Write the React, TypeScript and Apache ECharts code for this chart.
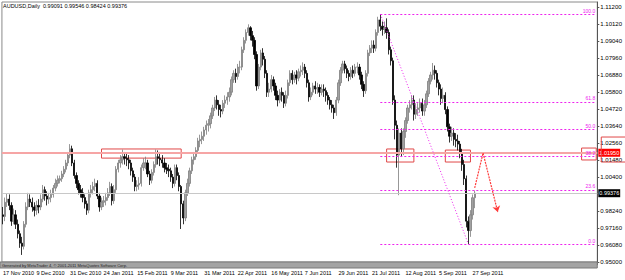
import React, { useEffect, useRef } from 'react';
import * as echarts from 'echarts';

const opens = [
  0.9800, 0.9790, 0.9880, 0.9900, 0.9860, 0.9760, 0.9800, 0.9740, 0.9680, 0.9620,
  0.9600, 0.9740, 0.9850, 0.9900, 0.9880, 0.9850, 0.9830, 0.9860, 0.9850, 0.9900,
  0.9960, 0.9920, 0.9900, 0.9910, 0.9930, 0.9970, 1.0000, 1.0020, 1.0030, 1.0060,
  1.0090, 1.0130, 1.0180, 1.0220, 1.0130, 1.0050, 1.0000, 0.9960, 0.9940, 0.9910,
  0.9870, 0.9830, 0.9940, 0.9960, 0.9980, 1.0000, 0.9920, 0.9850, 0.9880, 0.9890,
  0.9910, 0.9940, 0.9980, 0.9890, 0.9960, 1.0090, 1.0130, 1.0150, 1.0170, 1.0160,
  1.0150, 1.0130, 1.0080, 1.0040, 0.9980, 0.9990, 1.0000, 1.0100, 1.0130, 1.0130,
  1.0060, 1.0020, 1.0070, 1.0120, 1.0170, 1.0160, 1.0150, 1.0130, 1.0100, 1.0090,
  1.0080, 1.0040, 1.0000, 1.0100, 1.0050, 0.9980, 0.9870, 0.9780, 0.9940, 1.0000,
  1.0080, 1.0150, 1.0170, 1.0210, 1.0270, 1.0280, 1.0300, 1.0340, 1.0370, 1.0380,
  1.0430, 1.0480, 1.0530, 1.0500, 1.0470, 1.0460, 1.0510, 1.0530, 1.0550, 1.0580,
  1.0660, 1.0700, 1.0680, 1.0740, 1.0740, 1.0850, 1.0910, 1.0960, 1.0990, 1.0940,
  1.0910, 1.0820, 1.0620, 1.0740, 1.0830, 1.0790, 1.0700, 1.0580, 1.0600, 1.0660,
  1.0620, 1.0560, 1.0530, 1.0580, 1.0560, 1.0510, 1.0560, 1.0640, 1.0700, 1.0660,
  1.0690, 1.0670, 1.0710, 1.0720, 1.0740, 1.0700, 1.0640, 1.0550, 1.0580, 1.0620,
  1.0600, 1.0610, 1.0580, 1.0600, 1.0590, 1.0560, 1.0530, 1.0500, 1.0480, 1.0450,
  1.0530, 1.0640, 1.0720, 1.0760, 1.0730, 1.0700, 1.0680, 1.0720, 1.0700, 1.0740,
  1.0740, 1.0690, 1.0630, 1.0590, 1.0700, 1.0830, 1.0860, 1.0880, 1.0860, 1.0960,
  1.1040, 1.1000, 1.0980, 1.0990, 1.0960, 1.0850, 1.0780, 1.0530, 1.0370, 1.0180,
  1.0320, 1.0220, 1.0330, 1.0400, 1.0480, 1.0500, 1.0530, 1.0440, 1.0470, 1.0480,
  1.0510, 1.0460, 1.0500, 1.0570, 1.0650, 1.0690, 1.0720, 1.0700, 1.0640, 1.0600,
  1.0540, 1.0560, 1.0470, 1.0360, 1.0300, 1.0320, 1.0280, 1.0270, 1.0250, 1.0190,
  1.0120, 1.0030, 0.9760, 0.9700, 0.9800, 0.99091,
];

const closes = [
  0.9790, 0.9880, 0.9900, 0.9860, 0.9760, 0.9800, 0.9740, 0.9680, 0.9620, 0.9600,
  0.9740, 0.9850, 0.9900, 0.9880, 0.9850, 0.9830, 0.9860, 0.9850, 0.9900, 0.9960,
  0.9920, 0.9900, 0.9910, 0.9930, 0.9970, 1.0000, 1.0020, 1.0030, 1.0060, 1.0090,
  1.0130, 1.0180, 1.0220, 1.0130, 1.0050, 1.0000, 0.9960, 0.9940, 0.9910, 0.9870,
  0.9830, 0.9940, 0.9960, 0.9980, 1.0000, 0.9920, 0.9850, 0.9880, 0.9890, 0.9910,
  0.9940, 0.9980, 0.9890, 0.9960, 1.0090, 1.0130, 1.0150, 1.0170, 1.0160, 1.0150,
  1.0130, 1.0080, 1.0040, 0.9980, 0.9990, 1.0000, 1.0100, 1.0130, 1.0130, 1.0060,
  1.0020, 1.0070, 1.0120, 1.0170, 1.0160, 1.0150, 1.0130, 1.0100, 1.0090, 1.0080,
  1.0040, 1.0000, 1.0100, 1.0050, 0.9980, 0.9870, 0.9780, 0.9940, 1.0000, 1.0080,
  1.0150, 1.0170, 1.0210, 1.0270, 1.0280, 1.0300, 1.0340, 1.0370, 1.0380, 1.0430,
  1.0480, 1.0530, 1.0500, 1.0470, 1.0460, 1.0510, 1.0530, 1.0550, 1.0580, 1.0660,
  1.0700, 1.0680, 1.0740, 1.0740, 1.0850, 1.0910, 1.0960, 1.0990, 1.0940, 1.0910,
  1.0820, 1.0620, 1.0740, 1.0830, 1.0790, 1.0700, 1.0580, 1.0600, 1.0660, 1.0620,
  1.0560, 1.0530, 1.0580, 1.0560, 1.0510, 1.0560, 1.0640, 1.0700, 1.0660, 1.0690,
  1.0670, 1.0710, 1.0720, 1.0740, 1.0700, 1.0640, 1.0550, 1.0580, 1.0620, 1.0600,
  1.0610, 1.0580, 1.0600, 1.0590, 1.0560, 1.0530, 1.0500, 1.0480, 1.0450, 1.0530,
  1.0640, 1.0720, 1.0760, 1.0730, 1.0700, 1.0680, 1.0720, 1.0700, 1.0740, 1.0740,
  1.0690, 1.0630, 1.0590, 1.0700, 1.0830, 1.0860, 1.0880, 1.0860, 1.0960, 1.1040,
  1.1000, 1.0980, 1.0990, 1.0960, 1.0850, 1.0780, 1.0530, 1.0370, 1.0180, 1.0320,
  1.0220, 1.0330, 1.0400, 1.0480, 1.0500, 1.0530, 1.0440, 1.0470, 1.0480, 1.0510,
  1.0460, 1.0500, 1.0570, 1.0650, 1.0690, 1.0720, 1.0700, 1.0640, 1.0600, 1.0540,
  1.0560, 1.0470, 1.0360, 1.0300, 1.0320, 1.0280, 1.0270, 1.0250, 1.0190, 1.0120,
  1.0030, 0.9760, 0.9700, 0.9800, 0.99091, 0.99376,
];

const lows = [
  0.9740, 0.9760, 0.9850, 0.9830, 0.9730, 0.9740, 0.9710, 0.9650, 0.9590, 0.9545,
  0.9580, 0.9720, 0.9830, 0.9850, 0.9820, 0.9790, 0.9800, 0.9810, 0.9830, 0.9880,
  0.9890, 0.9860, 0.9870, 0.9880, 0.9910, 0.9950, 0.9980, 1.0000, 1.0010, 1.0040,
  1.0070, 1.0110, 1.0160, 1.0110, 1.0030, 0.9970, 0.9930, 0.9910, 0.9880, 0.9840,
  0.9800, 0.9810, 0.9910, 0.9930, 0.9950, 0.9900, 0.9820, 0.9830, 0.9850, 0.9860,
  0.9890, 0.9920, 0.9860, 0.9870, 0.9940, 1.0070, 1.0100, 1.0120, 1.0120, 1.0110,
  1.0090, 1.0050, 1.0010, 0.9950, 0.9950, 0.9960, 0.9980, 1.0080, 1.0090, 1.0040,
  0.9990, 1.0000, 1.0050, 1.0100, 1.0120, 1.0110, 1.0100, 1.0070, 1.0060, 1.0040,
  1.0010, 0.9970, 0.9980, 1.0020, 0.9950, 0.9710, 0.9740, 0.9760, 0.9920, 0.9980,
  1.0060, 1.0120, 1.0150, 1.0190, 1.0230, 1.0250, 1.0270, 1.0310, 1.0330, 1.0350,
  1.0410, 1.0460, 1.0470, 1.0430, 1.0420, 1.0440, 1.0480, 1.0500, 1.0520, 1.0560,
  1.0640, 1.0640, 1.0660, 1.0700, 1.0720, 1.0830, 1.0890, 1.0940, 1.0910, 1.0870,
  1.0790, 1.0590, 1.0600, 1.0720, 1.0750, 1.0670, 1.0550, 1.0550, 1.0580, 1.0590,
  1.0530, 1.0490, 1.0510, 1.0520, 1.0480, 1.0490, 1.0540, 1.0620, 1.0630, 1.0640,
  1.0630, 1.0650, 1.0680, 1.0690, 1.0670, 1.0610, 1.0520, 1.0530, 1.0560, 1.0570,
  1.0570, 1.0550, 1.0560, 1.0550, 1.0520, 1.0500, 1.0470, 1.0450, 1.0410, 1.0430,
  1.0510, 1.0620, 1.0700, 1.0700, 1.0670, 1.0650, 1.0660, 1.0670, 1.0680, 1.0700,
  1.0660, 1.0600, 1.0550, 1.0570, 1.0680, 1.0810, 1.0830, 1.0830, 1.0840, 1.0940,
  1.0970, 1.0940, 1.0950, 1.0920, 1.0820, 1.0750, 1.0500, 1.0280, 1.0100, 0.9925,
  1.0170, 1.0180, 1.0290, 1.0380, 1.0450, 1.0470, 1.0400, 1.0410, 1.0430, 1.0450,
  1.0430, 1.0430, 1.0480, 1.0550, 1.0630, 1.0660, 1.0660, 1.0610, 1.0560, 1.0500,
  1.0510, 1.0440, 1.0330, 1.0260, 1.0270, 1.0240, 1.0230, 1.0210, 1.0160, 1.0080,
  0.9990, 0.9720, 0.9614, 0.9660, 0.9770, 0.98424,
];

const highs = [
  0.9850, 0.9910, 0.9935, 0.9930, 0.9880, 0.9840, 0.9830, 0.9770, 0.9700, 0.9660,
  0.9760, 0.9880, 0.9940, 0.9930, 0.9910, 0.9880, 0.9890, 0.9900, 0.9930, 0.9990,
  0.9980, 0.9950, 0.9940, 0.9960, 0.9990, 1.0030, 1.0050, 1.0050, 1.0080, 1.0110,
  1.0150, 1.0200, 1.0250, 1.0240, 1.0150, 1.0070, 1.0020, 0.9990, 0.9970, 0.9930,
  0.9890, 0.9960, 0.9990, 1.0010, 1.0030, 1.0020, 0.9940, 0.9910, 0.9920, 0.9940,
  0.9970, 1.0010, 1.0000, 0.9990, 1.0110, 1.0150, 1.0180, 1.0215, 1.0200, 1.0190,
  1.0180, 1.0150, 1.0100, 1.0060, 1.0020, 1.0040, 1.0120, 1.0160, 1.0170, 1.0150,
  1.0080, 1.0090, 1.0140, 1.0215, 1.0210, 1.0200, 1.0180, 1.0160, 1.0130, 1.0120,
  1.0100, 1.0060, 1.0120, 1.0120, 1.0070, 0.9990, 0.9890, 0.9960, 1.0030, 1.0100,
  1.0170, 1.0200, 1.0230, 1.0290, 1.0310, 1.0330, 1.0360, 1.0400, 1.0410, 1.0450,
  1.0500, 1.0550, 1.0560, 1.0530, 1.0500, 1.0530, 1.0560, 1.0580, 1.0610, 1.0680,
  1.0720, 1.0730, 1.0760, 1.0780, 1.0870, 1.0930, 1.0980, 1.1012, 1.1000, 1.0970,
  1.0930, 1.0840, 1.0760, 1.0850, 1.0860, 1.0810, 1.0720, 1.0640, 1.0690, 1.0680,
  1.0640, 1.0590, 1.0600, 1.0610, 1.0580, 1.0590, 1.0660, 1.0720, 1.0720, 1.0710,
  1.0720, 1.0730, 1.0750, 1.0770, 1.0760, 1.0720, 1.0660, 1.0610, 1.0640, 1.0650,
  1.0640, 1.0630, 1.0630, 1.0630, 1.0610, 1.0580, 1.0550, 1.0530, 1.0500, 1.0550,
  1.0660, 1.0740, 1.0780, 1.0780, 1.0750, 1.0720, 1.0740, 1.0750, 1.0760, 1.0770,
  1.0760, 1.0710, 1.0650, 1.0720, 1.0850, 1.0880, 1.0910, 1.0910, 1.0980, 1.1060,
  1.1077, 1.1030, 1.1030, 1.1050, 1.0980, 1.0870, 1.0800, 1.0560, 1.0400, 1.0350,
  1.0350, 1.0350, 1.0420, 1.0500, 1.0530, 1.0560, 1.0560, 1.0510, 1.0510, 1.0540,
  1.0540, 1.0530, 1.0590, 1.0670, 1.0710, 1.0766, 1.0750, 1.0720, 1.0660, 1.0630,
  1.0610, 1.0580, 1.0490, 1.0380, 1.0360, 1.0350, 1.0320, 1.0310, 1.0270, 1.0220,
  1.0150, 1.0050, 0.9790, 0.9830, 0.9930, 0.99546,
];

// one label every 16 trading days, starting at the first bar
const xTickLabels = [
  '17 Nov 2010', '9 Dec 2010', '31 Dec 2010', '24 Jan 2011', '15 Feb 2011',
  '9 Mar 2011', '31 Mar 2011', '22 Apr 2011', '16 May 2011', '7 Jun 2011',
  '29 Jun 2011', '21 Jul 2011', '12 Aug 2011', '5 Sep 2011', '27 Sep 2011',
];
const yTickValues = [
  1.112, 1.1012, 1.0904, 1.0796, 1.0688, 1.058, 1.0472, 1.0364, 1.0256, 1.0148,
  1.004, 0.9824, 0.9716, 0.9608, 0.95,
];

const fibLabels = ['100.0', '61.8', '50.0', '38.2', '23.6', '0.0'];
const fibPrices = [1.1077, 1.0518, 1.0346, 1.0173, 0.9959, 0.9614];
const fibHighBar = 180;
const fibLowBar = 222;
const supportPrice = 1.0195;

// [startBar, endBar, topPrice, bottomPrice]
const boxes = [
  [47, 85, 1.0219, 1.0161],
  [183, 196, 1.0219, 1.0136],
  [211, 223, 1.0212, 1.0136],
  [276, 283, 1.0225, 1.0149],
];
const axisBox = [1.0295, 1.0136];
// projected path [bar, price]
const arrowPath = [
  [225, 0.9971],
  [229, 1.0193],
  [236, 0.9818],
];

const SLOTS = 284;
const FONT = 'Liberation Sans';
const MAGENTA = '#ee22ee';

export default function App() {
  const ref = useRef<HTMLDivElement>(null);
  useEffect(() => {
    document.body.style.margin = '0';
    const chart = echarts.init(ref.current!, null, { renderer: 'svg' });
    const n = opens.length;
    const categories = Array.from({ length: SLOTS }, (_, i) => String(i));
    const candleData = opens.map((o, i) => [o, closes[i], lows[i], highs[i]]);

    const fibLines = fibPrices.map((p, k) => [
      {
        coord: [fibHighBar, p],
        lineStyle: { color: MAGENTA, type: [2, 2], width: 1 },
        label: {
          show: true, formatter: fibLabels[k], position: 'insideEndTop',
          color: MAGENTA, fontSize: 5, fontFamily: FONT, distance: 1,
        },
      },
      { coord: [SLOTS - 1, p] },
    ]);
    const diag = [
      { coord: [fibHighBar, fibPrices[0]], lineStyle: { color: MAGENTA, type: [1, 2], width: 1 }, label: { show: false } },
      { coord: [fibLowBar, fibPrices[fibPrices.length - 1]] },
    ];
    const arrowSegs = arrowPath.slice(0, -1).map((pt, i) => [
      { coord: pt, lineStyle: { color: '#ff3b3b', type: [2, 1], width: 1.2 }, label: { show: false } },
      { coord: arrowPath[i + 1], symbol: i === arrowPath.length - 2 ? 'arrow' : 'none', symbolSize: 6 },
    ]);

    const option: any = {
      animation: false,
      backgroundColor: '#ffffff',
      title: {
        text: `AUDUSD,Daily  ${opens[n - 1].toFixed(5)} ${highs[n - 1].toFixed(5)} ${lows[n - 1].toFixed(5)} ${closes[n - 1].toFixed(5)}`,
        left: 3, top: 3, padding: 0,
        textStyle: { fontSize: 5.5, fontWeight: 'normal', color: '#000', fontFamily: FONT },
      },
      grid: { left: 0, right: 20, top: 2, bottom: 18, show: true, borderColor: '#8a8a8a', borderWidth: 1 },
      xAxis: {
        type: 'category',
        data: categories,
        boundaryGap: true,
        axisLine: { show: false },
        axisTick: {
          show: true, length: 3, lineStyle: { color: '#555' },
          interval: (i: number) => i % 16 === 0 && i / 16 < xTickLabels.length,
        },
        axisLabel: {
          interval: 15, margin: 8, align: 'left', fontSize: 5.5, color: '#000', fontFamily: FONT,
          formatter: (_v: string, i: number) => (i % 16 === 0 ? xTickLabels[i / 16] ?? '' : ''),
        },
        splitLine: { show: false },
      },
      yAxis: {
        type: 'value',
        position: 'right',
        min: 0.95,
        max: 1.1154,
        scale: true,
        axisLine: { show: true, lineStyle: { color: '#555' } },
        axisTick: { show: true, length: 2, customValues: yTickValues, lineStyle: { color: '#555' } },
        axisLabel: {
          customValues: yTickValues, margin: 3, fontSize: 6, color: '#000', fontFamily: FONT,
          formatter: (v: number) => v.toFixed(5),
        },
        splitLine: { show: false },
      },
      series: [
        {
          type: 'candlestick',
          data: candleData,
          barWidth: 1.8,
          itemStyle: {
            color: '#a2a2a2', color0: '#000000',
            borderColor: '#7e7e7e', borderColor0: '#000000', borderWidth: 0.8,
          },
          markArea: {
            silent: true,
            itemStyle: { color: 'rgba(0,0,0,0)', borderColor: '#e04848', borderWidth: 1 },
            data: boxes.map((b) => [{ coord: [b[0], b[2]] }, { coord: [b[1], b[3]] }]),
          },
          markLine: {
            silent: true,
            symbol: ['none', 'none'],
            precision: 5,
            data: [
              {
                yAxis: supportPrice,
                lineStyle: { color: '#f6a5a5', width: 2, type: 'solid' },
                label: {
                  show: true, position: 'end', distance: 1, formatter: supportPrice.toFixed(5),
                  backgroundColor: '#ff0000', color: '#fff', fontSize: 5.5, fontFamily: FONT, padding: [1, 1],
                },
              },
              {
                yAxis: closes[n - 1],
                lineStyle: { color: '#c8c8c8', width: 1, type: 'solid' },
                label: {
                  show: true, position: 'end', distance: 1, formatter: closes[n - 1].toFixed(5),
                  backgroundColor: '#000', color: '#fff', fontSize: 5.5, fontFamily: FONT, padding: [1, 1],
                },
              },
              ...fibLines,
              diag,
              ...arrowSegs,
            ],
          },
        },
      ],
    };
    chart.setOption(option);

    const yTop = chart.convertToPixel({ yAxisIndex: 0 }, axisBox[0]) as number;
    const yBot = chart.convertToPixel({ yAxisIndex: 0 }, axisBox[1]) as number;
    const yMin = chart.convertToPixel({ yAxisIndex: 0 }, 0.95) as number;
    const xRight = (chart.convertToPixel({ xAxisIndex: 0 }, SLOTS - 1) as number) + 1;
    chart.setOption({
      graphic: [
        {
          type: 'rect', z: 50,
          shape: { x: xRight + 4, y: yTop, width: 30, height: yBot - yTop },
          style: { fill: 'none', stroke: '#e04848', lineWidth: 1 },
        },
        {
          type: 'rect', z: 40,
          shape: { x: 0, y: yMin, width: xRight, height: 6 },
          style: { fill: '#a4a4a4', stroke: '#7a7a7a', lineWidth: 1 },
        },
        {
          type: 'text', z: 41, x: 2, y: yMin + 1.2,
          style: {
            text: 'Generated by MetaTrader 4, © 2001-2011 MetaQuotes Software Corp.',
            fontSize: 4, fontFamily: FONT, fill: '#202020',
          },
        },
      ],
    });
    return () => chart.dispose();
  }, []);
  return <div ref={ref} style={{ width: 625, height: 280 }} />;
}
